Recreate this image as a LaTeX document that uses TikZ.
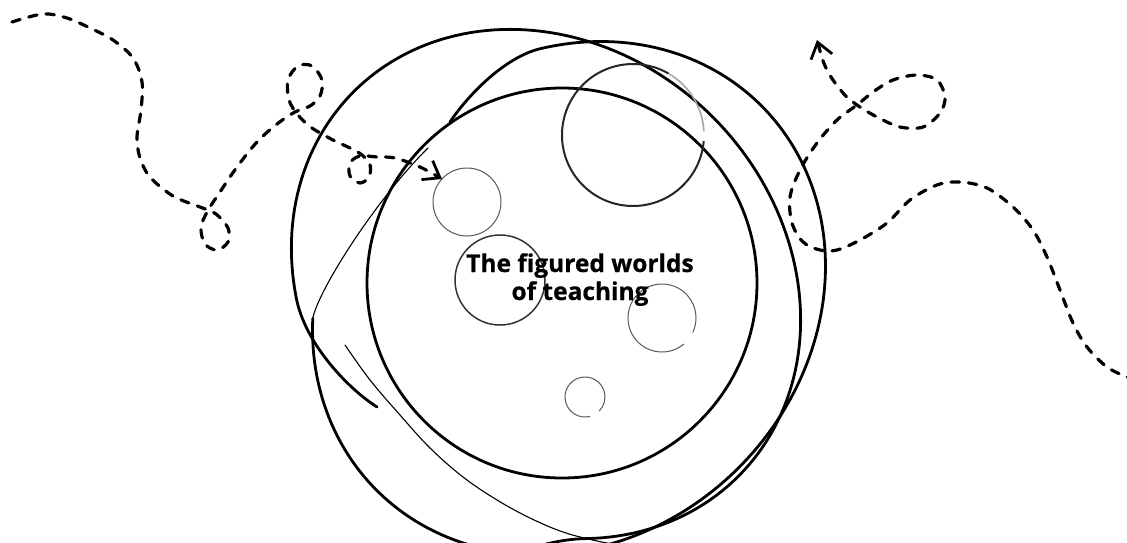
\documentclass[tikz,border=0pt]{standalone}
\usepackage{fontspec}
\setmainfont{Open Sans}
\newfontfamily\titlefont{Open Sans}[BoldFeatures={FakeBold=0.5}]
\usetikzlibrary{arrows.meta}
\begin{document}
\begin{tikzpicture}[x=1pt,y=-1pt,
  bigstroke/.style={line width=2.8pt, line cap=round, line join=round, black},
  finestroke/.style={line width=1.1pt, line cap=round, black},
  dashpath/.style={line width=3.2pt, line cap=round, dash pattern=on 8.5pt off 9pt, black},
  smallring/.style={line width=1pt, black!65},
  midring/.style={line width=1.5pt, black!80},
  titletext/.style={font=\titlefont\bfseries\fontsize{24.5}{28}\selectfont, inner sep=0pt, text=black}]
\fill[white] (0,0) rectangle (1127,543);
\path[use as bounding box] (0,0) rectangle (1127,543);
\begin{scope}
\clip (0,0) rectangle (1127,543);
% inner circle C
\draw[bigstroke] (562,283) circle[radius=195];
% outer loop A
\draw[bigstroke] (377,407) .. controls (350,390) and (305,345) .. (296.1,297.1)
  -- plot[domain=-232:40, samples=150, variable=\t]
     ({546+0.7071*(272*cos(\t)-236*sin(\t))},{284+0.7071*(272*cos(\t)+236*sin(\t))})
  .. controls (560,539) and (535,546) .. (510,556);
% thin diagonal D
\draw[finestroke] plot[smooth, tension=0.6] coordinates {(345,345) (370,380) (400,415) (430,448) (463,477) (497,500) (530,518) (563,532) (597,541) (630,547) (660,553)};
% outer loop B (thick part)
\draw[bigstroke] (450,122) .. controls (468,95) and (505,57) .. (540.3,48.7)
  -- plot[domain=-55:224, samples=170, variable=\t]
     ({569+0.7071*(272*cos(\t)+240*sin(\t))},{298+0.7071*(-272*cos(\t)+240*sin(\t))});
% B thin part
\draw[finestroke] (312.8,318.5) .. controls (318,290) and (378,197) .. (428,148);
% small rings
\draw[line width=2pt, black!85] (633,135) ++(5:71) arc[start angle=5, end angle=300, radius=71];
\draw[line width=1.6pt, black!35] (633,135) ++(300:71) arc[start angle=300, end angle=357, radius=71];
\draw[smallring] (467,202) circle[radius=34];
\draw[midring] (500,280) circle[radius=45];
\draw[smallring] (662,318) ++(50:34) arc[start angle=50, end angle=385, radius=34];
\draw[smallring] (585,397) ++(75:20) arc[start angle=75, end angle=405, radius=20];
% dashed path left
\draw[dashpath, -{Straight Barb[length=15pt,width=22pt,line width=2.8pt]}] plot[smooth, tension=0.55] coordinates {(12,22) (43,14) (67,18) (90,28) (113,40) (133,58) (142,82) (141,110) (137,137) (140,158) (150,177) (173,196) (200,207) (216,214) (228,228) (228,242) (217,250) (205,244) (201,228) (207,212) (220,192) (237,167) (257,142) (277,124) (295,112) (310,106) (320,96) (322,80) (312,66) (298,66) (288,80) (289,100) (298,115) (312,128) (333,140) (350,148) (362,155) (370,165) (369,177) (360,183) (350,176) (350,163) (360,156) (377,157) (395,158) (420,167) (442,179)};
% dashed path right
\draw[dashpath, {Straight Barb[length=15pt,width=22pt,line width=2.8pt]}-] plot[smooth, tension=0.55] coordinates {(817,40) (827,70) (843,93) (857,105) (877,117) (900,127) (923,127) (940,113) (945,97) (937,80) (917,75) (893,80) (873,92) (857,105) (837,120) (817,143) (800,170) (790,197) (792,223) (803,242) (820,250) (837,250) (860,240) (887,223) (910,200) (937,185) (960,182) (987,188) (1013,207) (1033,230) (1047,257) (1060,290) (1073,323) (1087,347) (1107,367) (1127,377) (1140,382)};
\end{scope}
\node[titletext, anchor=base] (t1) at (580,272) {The figured worlds};
\node[titletext, anchor=base] (t2) at (580,300) {of teaching};
\end{tikzpicture}
\end{document}
